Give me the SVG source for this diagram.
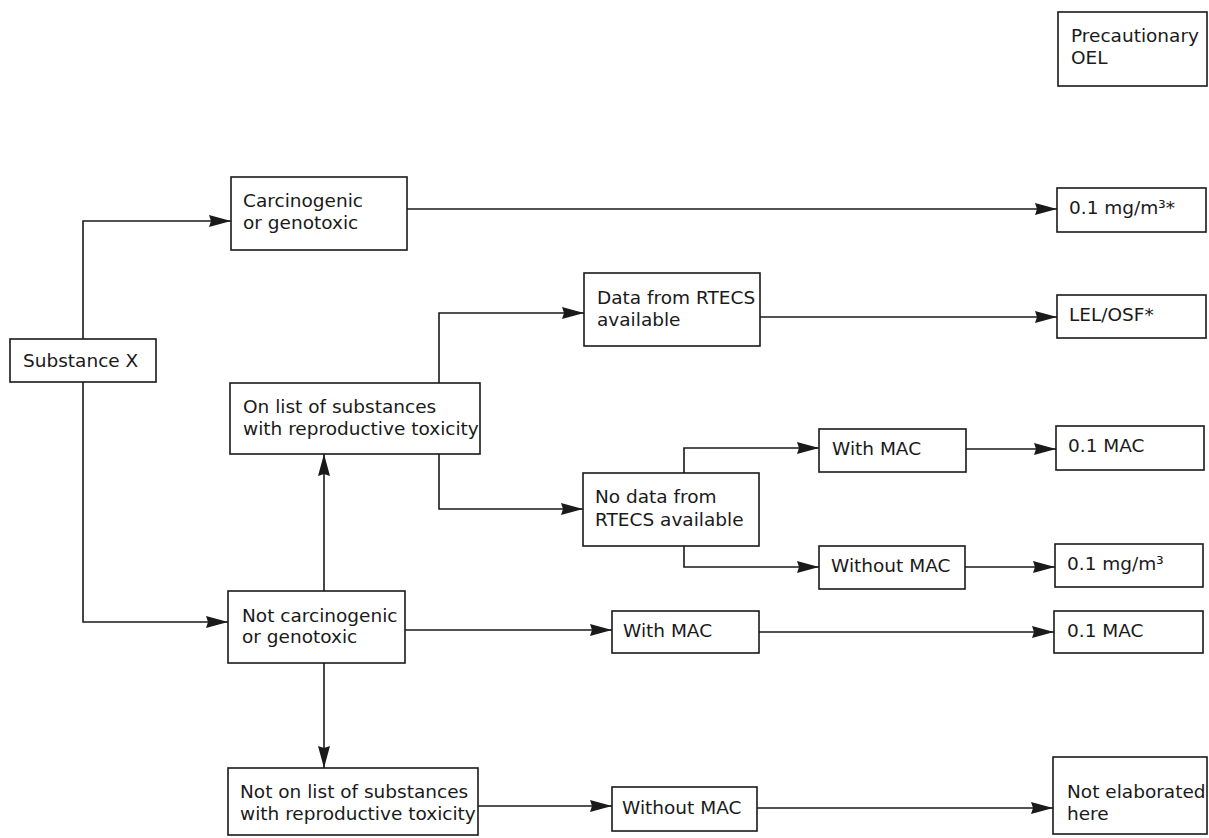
<svg xmlns="http://www.w3.org/2000/svg" width="1209" height="838" viewBox="0 0 1209 838">
<style>
.box{fill:#fff;stroke:#1a1a1a;stroke-width:1.6}
.t{font-family:"DejaVu Sans",Verdana,sans-serif;font-size:18.5px;fill:#1a1a1a}
.c{fill:none;stroke:#1a1a1a;stroke-width:1.6}
</style>
<defs>
<marker id="ah" markerUnits="userSpaceOnUse" markerWidth="24" markerHeight="14" refX="22" refY="7" orient="auto">
<path d="M0,1 L22,7 L0,13 L2,7 Z" fill="#1a1a1a"/>
</marker>
</defs>
<rect width="1209" height="838" fill="#fff"/>
<g id="connectors">
<path class="c" d="M83,339 V221 H231" marker-end="url(#ah)"/>
<path class="c" d="M83,382 V622 H228" marker-end="url(#ah)"/>
<path class="c" d="M407,209 H1057" marker-end="url(#ah)"/>
<path class="c" d="M324,591 V454" marker-end="url(#ah)"/>
<path class="c" d="M439,383 V313 H584" marker-end="url(#ah)"/>
<path class="c" d="M439,454 V509 H583" marker-end="url(#ah)"/>
<path class="c" d="M760,317 H1057" marker-end="url(#ah)"/>
<path class="c" d="M684,473 V448 H819" marker-end="url(#ah)"/>
<path class="c" d="M684,546 V567 H819" marker-end="url(#ah)"/>
<path class="c" d="M966,449 H1056" marker-end="url(#ah)"/>
<path class="c" d="M965,567 H1055" marker-end="url(#ah)"/>
<path class="c" d="M405,630 H612" marker-end="url(#ah)"/>
<path class="c" d="M759,632 H1054" marker-end="url(#ah)"/>
<path class="c" d="M324,663 V768" marker-end="url(#ah)"/>
<path class="c" d="M478,806 H612" marker-end="url(#ah)"/>
<path class="c" d="M757,808 H1053" marker-end="url(#ah)"/>
</g>
<g id="precautionary-oel">
<rect class="box" x="1058" y="12" width="149" height="74"/>
<text class="t" x="1071" y="42">Precautionary</text>
<text class="t" x="1071" y="64">OEL</text>
</g>
<g id="substance-x">
<rect class="box" x="10" y="339" width="146" height="43"/>
<text class="t" x="23" y="367">Substance X</text>
</g>
<g id="carcinogenic">
<rect class="box" x="231" y="177" width="176" height="73"/>
<text class="t" x="243" y="207">Carcinogenic</text>
<text class="t" x="243" y="229">or genotoxic</text>
</g>
<g id="oel-carc">
<rect class="box" x="1057" y="188" width="149" height="44"/>
<text class="t" x="1069" y="214">0.1 mg/m³*</text>
</g>
<g id="data-rtecs">
<rect class="box" x="584" y="273" width="176" height="73"/>
<text class="t" x="597" y="304">Data from RTECS</text>
<text class="t" x="597" y="326">available</text>
</g>
<g id="lel-osf">
<rect class="box" x="1057" y="295" width="149" height="43"/>
<text class="t" x="1069" y="321">LEL/OSF*</text>
</g>
<g id="on-list">
<rect class="box" x="230" y="383" width="250" height="71"/>
<text class="t" x="243" y="413">On list of substances</text>
<text class="t" x="243" y="435">with reproductive toxicity</text>
</g>
<g id="with-mac-1">
<rect class="box" x="819" y="429" width="147" height="43"/>
<text class="t" x="832" y="455">With MAC</text>
</g>
<g id="mac-1">
<rect class="box" x="1056" y="426" width="148" height="44"/>
<text class="t" x="1068" y="452">0.1 MAC</text>
</g>
<g id="no-data-rtecs">
<rect class="box" x="583" y="473" width="176" height="73"/>
<text class="t" x="595" y="503">No data from</text>
<text class="t" x="595" y="526">RTECS available</text>
</g>
<g id="without-mac-1">
<rect class="box" x="819" y="546" width="146" height="43"/>
<text class="t" x="831" y="572">Without MAC</text>
</g>
<g id="mgm3">
<rect class="box" x="1055" y="544" width="148" height="43"/>
<text class="t" x="1067" y="570">0.1 mg/m³</text>
</g>
<g id="not-carcinogenic">
<rect class="box" x="228" y="591" width="177" height="72"/>
<text class="t" x="242" y="622">Not carcinogenic</text>
<text class="t" x="242" y="643">or genotoxic</text>
</g>
<g id="with-mac-2">
<rect class="box" x="612" y="611" width="147" height="42"/>
<text class="t" x="623" y="637">With MAC</text>
</g>
<g id="mac-2">
<rect class="box" x="1054" y="611" width="149" height="42"/>
<text class="t" x="1067" y="637">0.1 MAC</text>
</g>
<g id="not-on-list">
<rect class="box" x="228" y="768" width="250" height="67"/>
<text class="t" x="240" y="798">Not on list of substances</text>
<text class="t" x="240" y="820">with reproductive toxicity</text>
</g>
<g id="without-mac-2">
<rect class="box" x="612" y="787" width="145" height="44"/>
<text class="t" x="622" y="814">Without MAC</text>
</g>
<g id="not-elaborated">
<rect class="box" x="1053" y="757" width="154" height="77"/>
<text class="t" x="1067" y="798">Not elaborated</text>
<text class="t" x="1067" y="820">here</text>
</g>
</svg>
